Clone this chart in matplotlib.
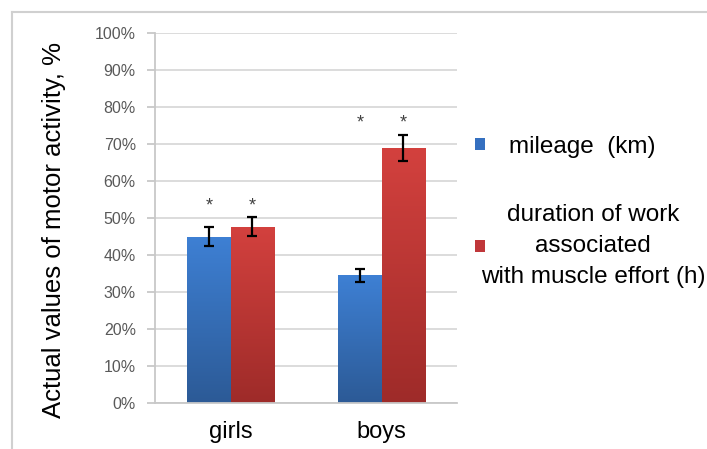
import numpy as np
import matplotlib
matplotlib.use("Agg")
from matplotlib import pyplot as plt
from matplotlib.lines import Line2D
from matplotlib.colors import LinearSegmentedColormap
from matplotlib.ticker import PercentFormatter

plt.rcParams['font.family'] = ['Liberation Sans', 'DejaVu Sans']

# data
groups = ["girls", "boys"]
mileage = [45.0, 34.5]
mileage_err = [2.5, 1.8]
muscle = [47.7, 68.9]
muscle_err = [2.5, 3.6]
star_y = [52.0, 74.5]          # baseline of the significance asterisks
series_names = ["mileage  (km)", "duration of work\nassociated\nwith muscle effort (h)"]
y_ticks = list(range(0, 101, 10))

fig = plt.figure(figsize=(7.07, 4.49), dpi=100)
ax = fig.add_axes([155 / 707, 1 - 403 / 449, 302 / 707, 370 / 449])

x = np.arange(len(groups))
w = 0.285
grid_col = "#d9d9d9"

b1 = ax.bar(x - w / 2, mileage, w, color="#3570c0", zorder=2)
b2 = ax.bar(x + w / 2, muscle, w, color="#c0373a", zorder=2)

# vertical gradient fill inside each bar
blue_cmap = LinearSegmentedColormap.from_list("b", ["#2c5a96", "#3e80d4"])
red_cmap = LinearSegmentedColormap.from_list("r", ["#9e2b29", "#d3413e"])
grad = np.linspace(0, 1, 256).reshape(-1, 1)
for bars, cmap in ((b1, blue_cmap), (b2, red_cmap)):
    for p in bars:
        x0, y0 = p.get_x(), p.get_y()
        im = ax.imshow(grad, cmap=cmap, origin="lower", aspect="auto",
                       extent=(x0, x0 + p.get_width(), y0, y0 + p.get_height()),
                       zorder=2.5)
        im.set_clip_path(p)

ax.errorbar(x - w / 2, mileage, yerr=mileage_err, fmt="none", ecolor="black",
            elinewidth=1.6, capsize=3.3, capthick=1.6, zorder=3)
ax.errorbar(x + w / 2, muscle, yerr=muscle_err, fmt="none", ecolor="black",
            elinewidth=1.6, capsize=3.3, capthick=1.6, zorder=3)

for xi, sy in zip(x, star_y):
    for dx in (-w / 2, w / 2):
        ax.text(xi + dx, sy, "*", ha="center", va="baseline", fontsize=13, color="#404040")

ax.set_xlim(-0.5, 1.5)
ax.set_ylim(0, 100)
ax.set_yticks(y_ticks)
ax.yaxis.set_major_formatter(PercentFormatter(decimals=0))
ax.set_xticks(x)
ax.set_xticklabels(groups)
ax.grid(axis="y", color=grid_col, linewidth=1.3, zorder=0)
ax.set_axisbelow(True)
for s in ("top", "right"):
    ax.spines[s].set_visible(False)
for s in ("left", "bottom"):
    ax.spines[s].set_color("#c8c8c8")
    ax.spines[s].set_linewidth(1.3)
ax.tick_params(axis="y", colors="#c8c8c8", length=5.8, width=1.3, pad=8,
               labelcolor="#595959", labelsize=11.5)
ax.tick_params(axis="x", length=0, pad=13, labelsize=17, labelcolor="black")

ax.set_ylabel("Actual values of motor activity, %", fontsize=18.5)
ax.yaxis.set_label_coords(-0.295, 0.468)

# legend: two pieces so the long label can sit under its marker
leg1 = fig.legend([b1], [series_names[0]], loc="center left",
                  bbox_to_anchor=(475 / 707, 1 - 147 / 449), frameon=False,
                  fontsize=17.5, handlelength=0.4, handleheight=0.4,
                  handletextpad=1.0, borderpad=0, borderaxespad=0)
leg2 = fig.legend([b2], [series_names[1]], loc="center left",
                  bbox_to_anchor=(475 / 707, 1 - 246 / 449), frameon=False,
                  fontsize=17.5, handlelength=0.4, handleheight=0.4,
                  handletextpad=-0.15, borderpad=0, borderaxespad=0)
for t in leg2.get_texts():
    t.set_multialignment("center")
    t.set_linespacing(1.55)

# outer chart frame (cut at right/bottom in the reference)
fig.add_artist(Line2D([12 / 707, 1], [1 - 12 / 449] * 2, color="#d0d0d0", lw=1.5))
fig.add_artist(Line2D([12 / 707] * 2, [0, 1 - 12 / 449], color="#d0d0d0", lw=1.5))

fig.savefig("out.png", dpi=100)
